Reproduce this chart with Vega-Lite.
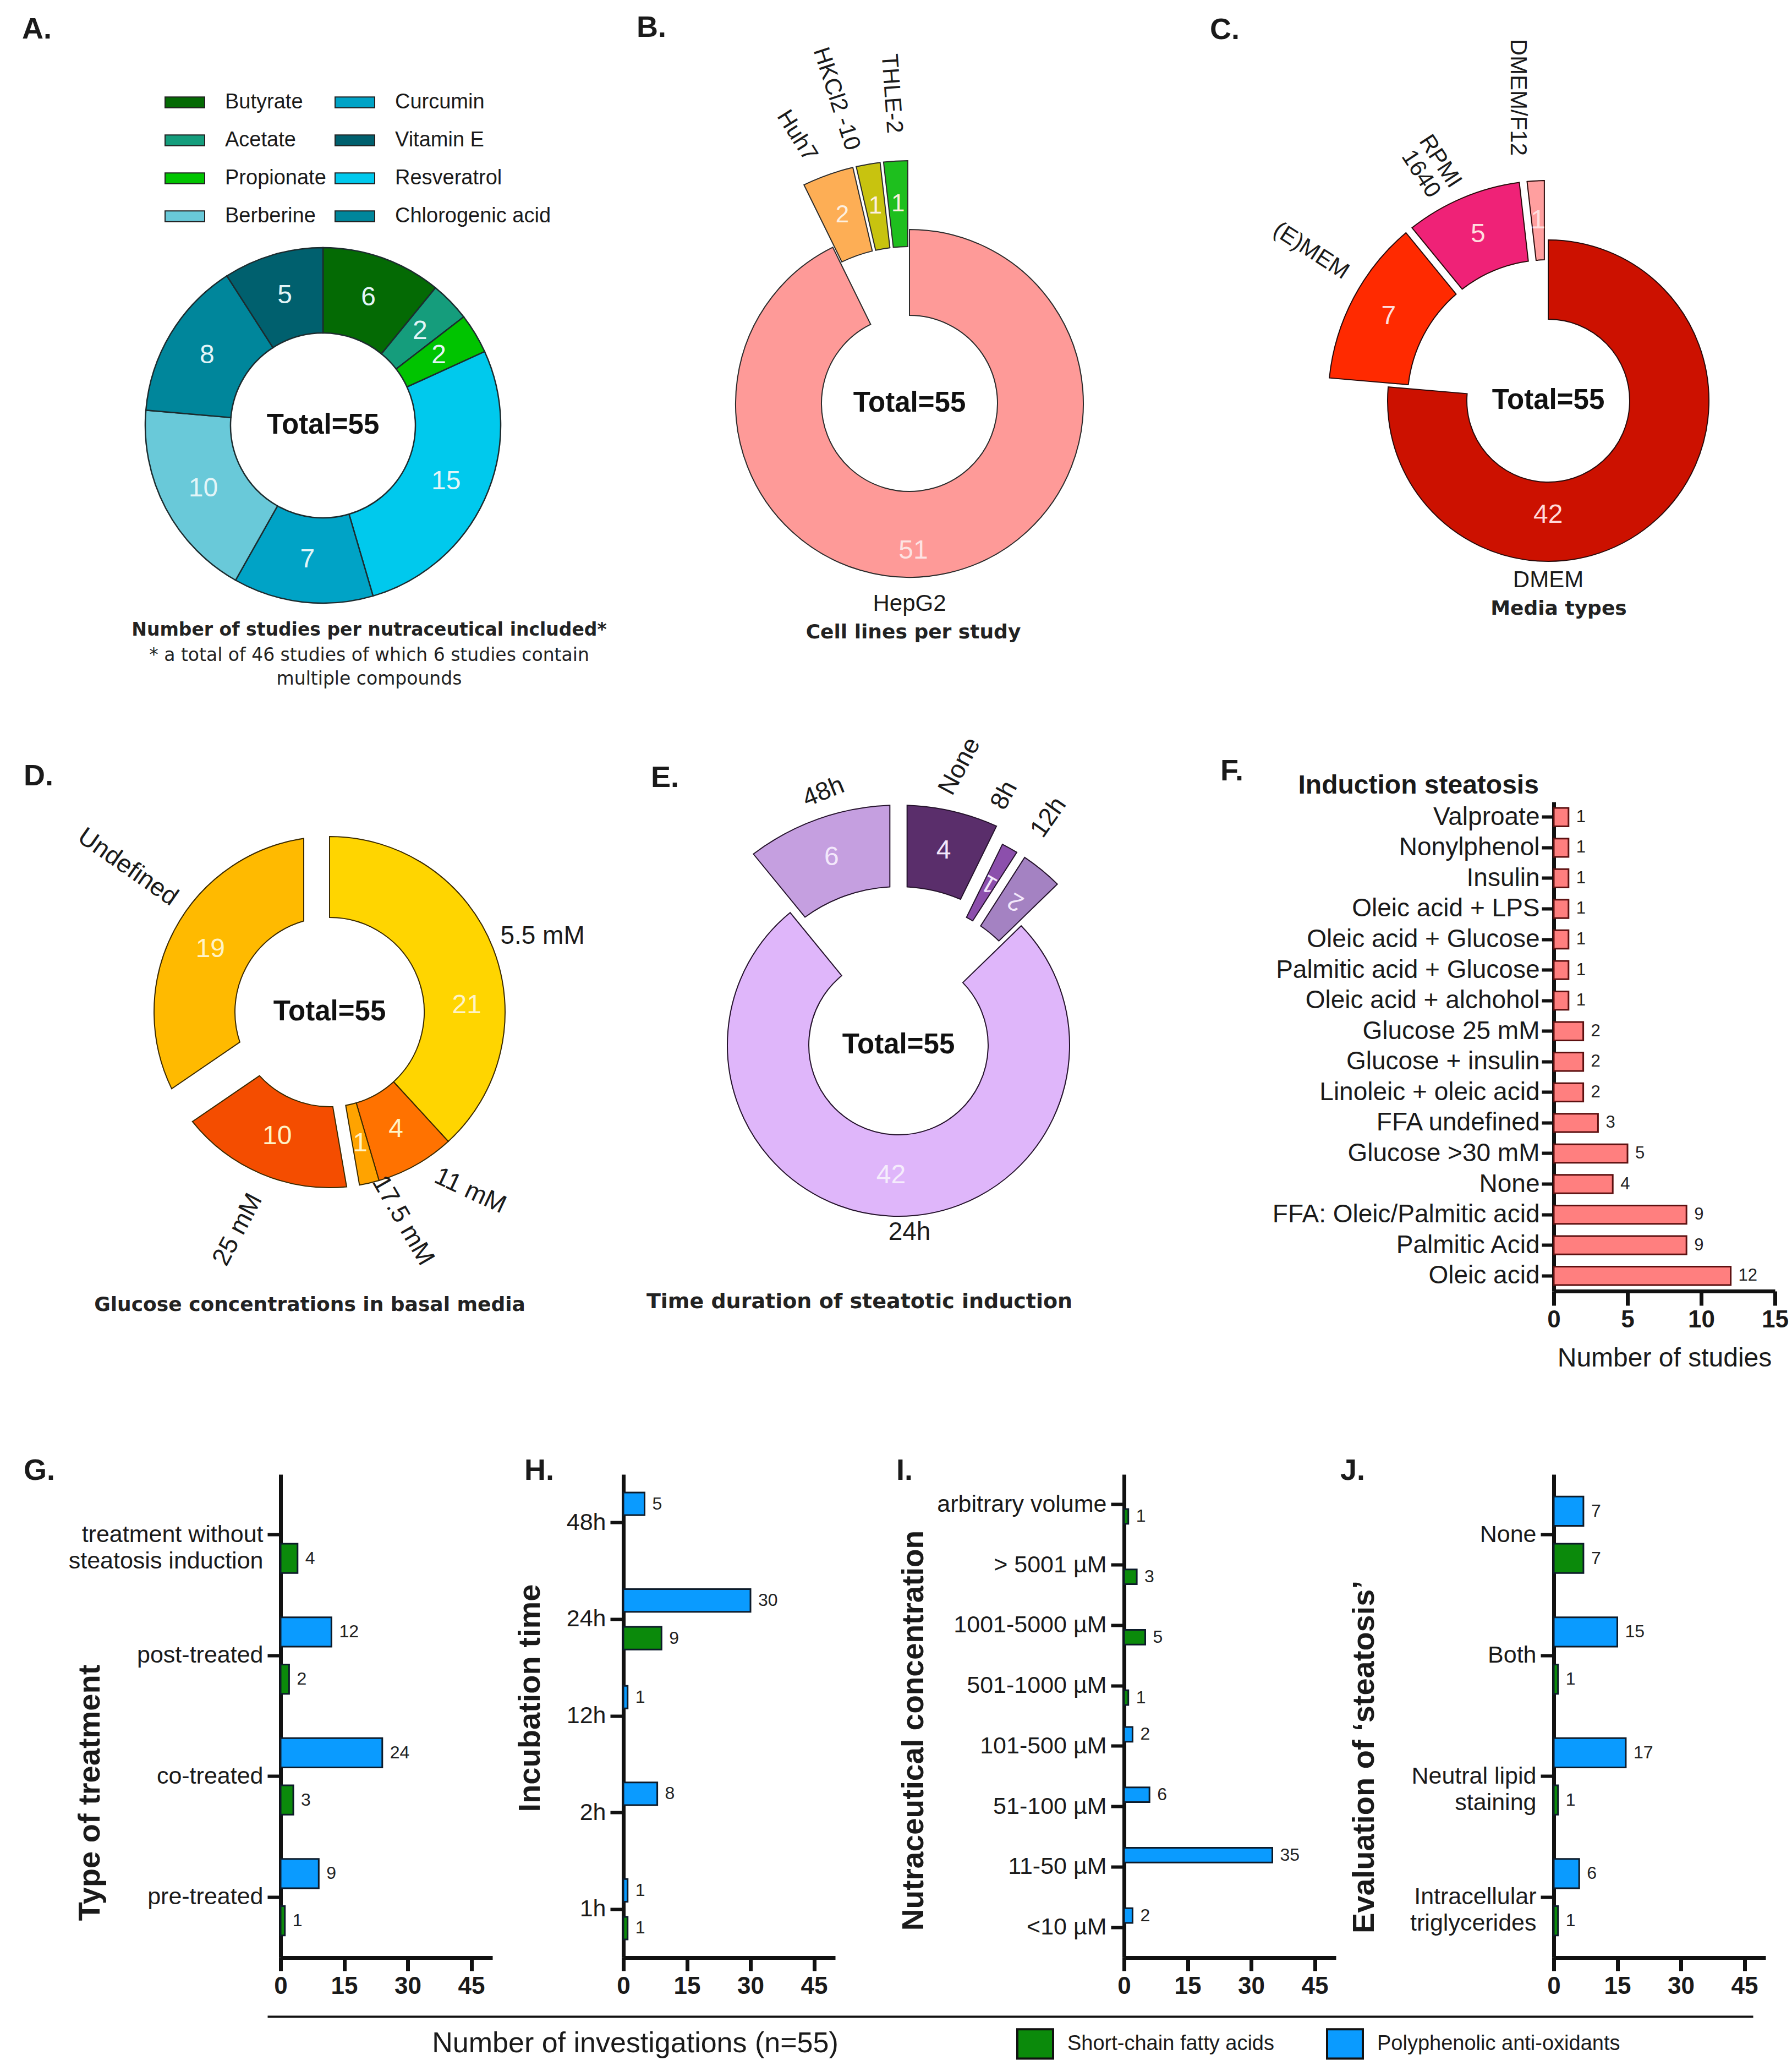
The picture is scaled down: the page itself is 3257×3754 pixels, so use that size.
{
"$schema": "https://vega.github.io/schema/vega-lite/v6.json",
"background": "white",
"padding": {"left": 40, "top": 24, "right": 0, "bottom": 0},
"config": {
  "font": "Liberation Sans",
  "view": {"stroke": null},
  "title": {"fontSize": 54, "fontWeight": "bold", "anchor": "start", "frame": "group", "color": "#1a1a1a"},
  "axis": {"grid": false, "domainColor": "#111111", "tickColor": "#111111", "labelColor": "#1a1a1a", "titleColor": "#1a1a1a", "labelFlush": false, "labelOverlap": false},
  "text": {"color": "#1a1a1a", "fontSize": 42},
  "legend": {"labelColor": "#1a1a1a"}
},
"spacing": 0,
"resolve": {"scale": {"color": "independent", "yOffset": "independent"}, "legend": {"color": "independent"}},
"vconcat": [
 {"columns": 8,
  "align": {"row": "each", "column": "each"},
  "bounds": "flush",
  "spacing": {"row": 0, "column": 0},
  "resolve": {"scale": {"color": "independent", "yOffset": "independent"}, "legend": {"color": "independent"}},
  "concat": [
   {"width": 154, "height": 1340,
    "title": {"text": "A.", "dx": -470, "offset": 22},
    "data": {"values": [
      {"compound": "Butyrate", "n": 6, "ord": 1},
      {"compound": "Acetate", "n": 2, "ord": 2},
      {"compound": "Propionate", "n": 2, "ord": 3},
      {"compound": "Resveratrol", "n": 15, "ord": 4},
      {"compound": "Curcumin", "n": 7, "ord": 5},
      {"compound": "Berberine", "n": 10, "ord": 6},
      {"compound": "Chlorogenic acid", "n": 8, "ord": 7},
      {"compound": "Vitamin E", "n": 5, "ord": 8}]},
    "layer": [
     {"mark": {"type": "arc", "innerRadius": 168, "outerRadius": 323, "stroke": "#1c2b2e", "strokeWidth": 2.5},
      "encoding": {
       "theta": {"field": "n", "type": "quantitative", "stack": true},
       "order": {"field": "ord", "type": "quantitative"},
       "color": {"field": "compound", "type": "nominal",
         "scale": {"domain": ["Butyrate", "Acetate", "Propionate", "Berberine", "Curcumin", "Vitamin E", "Resveratrol", "Chlorogenic acid"],
                   "range": ["#046a04", "#159d7c", "#00c400", "#69c9d9", "#00a3c6", "#00606e", "#00c9ed", "#00869b"]},
         "legend": {"title": null, "orient": "none", "legendX": -211, "legendY": 46, "columns": 2, "direction": "vertical",
           "symbolType": "M-1,-0.27H1V0.27H-1Z", "symbolSize": 5184, "symbolStrokeColor": "#222222", "symbolStrokeWidth": 2,
           "labelFontSize": 38, "labelOffset": 36, "rowPadding": 13, "columnPadding": 12, "labelLimit": 600}}}},
     {"mark": {"type": "text", "radius": 246, "fontSize": 48, "color": "#e3f5f8"},
      "encoding": {
       "theta": {"field": "n", "type": "quantitative", "stack": true},
       "order": {"field": "ord", "type": "quantitative"},
       "text": {"field": "n", "type": "quantitative"}}},
     {"data": {"values": [{"t": "Total=55"}]},
      "mark": {"type": "text", "fontSize": 51, "fontWeight": "bold", "color": "#111111"},
      "encoding": {"text": {"field": "t", "type": "nominal"}}},
     {"data": {"values": [{"t": "Number of studies per nutraceutical included*"}]},
      "mark": {"type": "text", "font": "DejaVu Sans", "fontSize": 33, "fontWeight": "bold", "color": "#222222", "dx": 84, "dy": 372},
      "encoding": {"text": {"field": "t", "type": "nominal"}}},
     {"data": {"values": [{"t": "* a total of 46 studies of which 6 studies contain|multiple compounds"}]},
      "mark": {"type": "text", "font": "DejaVu Sans", "fontSize": 33, "color": "#222222", "dx": 84, "dy": 402, "baseline": "top", "lineBreak": "|", "lineHeight": 43},
      "encoding": {"text": {"field": "t", "type": "nominal"}}}
    ]},
   {"width": 1, "height": 1354, "data": {"values": [{}]}, "mark": {"type": "point", "opacity": 0}, "encoding": {}},
   {"width": 1, "height": 1, "data": {"values": [{}]}, "mark": {"type": "point", "opacity": 0}, "encoding": {}},
   {"width": 270, "height": 1260,
    "title": {"text": "B.", "dx": -361, "offset": 1},
    "data": {"values": [
      {"line": "HepG2", "n": 51, "ord": 1},
      {"line": "Huh7", "n": 2, "ord": 2},
      {"line": "HKCl2 -10", "n": 1, "ord": 3},
      {"line": "THLE-2", "n": 1, "ord": 4}]},
    "layer": [
     {"mark": {"type": "arc", "innerRadius": 160, "outerRadius": 316, "stroke": "#2b2b2b", "strokeWidth": 2},
      "encoding": {
       "theta": {"field": "n", "type": "quantitative", "stack": true},
       "order": {"field": "ord", "type": "quantitative"},
       "color": {"field": "line", "type": "nominal", "scale": {"domain": ["HepG2", "Huh7", "HKCl2 -10", "THLE-2"], "range": ["#fe9a98", "#fdae55", "#c8c30f", "#1ebf1e"]}, "legend": null},
       "opacity": {"condition": {"test": "datum.line == 'HepG2'", "value": 1}, "value": 0}}},
     {"mark": {"type": "arc", "innerRadius": 285, "outerRadius": 441, "padAngle": 0.012, "stroke": "#2b2b2b", "strokeWidth": 2},
      "encoding": {
       "theta": {"field": "n", "type": "quantitative", "stack": true},
       "order": {"field": "ord", "type": "quantitative"},
       "color": {"field": "line", "type": "nominal", "scale": {"domain": ["HepG2", "Huh7", "HKCl2 -10", "THLE-2"], "range": ["#fe9a98", "#fdae55", "#c8c30f", "#1ebf1e"]}, "legend": null},
       "opacity": {"condition": {"test": "datum.line != 'HepG2'", "value": 1}, "value": 0}}},
     {"mark": {"type": "text", "radius": 238, "dx": -47, "dy": 36, "fontSize": 48, "color": "#fde3e3"},
      "encoding": {
       "theta": {"field": "n", "type": "quantitative", "stack": true},
       "order": {"field": "ord", "type": "quantitative"},
       "text": {"field": "n", "type": "quantitative"},
       "opacity": {"condition": {"test": "datum.line == 'HepG2'", "value": 1}, "value": 0}}},
     {"mark": {"type": "text", "radius": 363, "fontSize": 44, "color": "#fdf0e0"},
      "encoding": {
       "theta": {"field": "n", "type": "quantitative", "stack": true},
       "order": {"field": "ord", "type": "quantitative"},
       "text": {"field": "n", "type": "quantitative"},
       "opacity": {"condition": {"test": "datum.line != 'HepG2'", "value": 1}, "value": 0}}},
     {"mark": {"type": "text", "radius": 527, "angle": 58, "dx": -6, "dy": 28, "fontSize": 42},
      "encoding": {
       "theta": {"field": "n", "type": "quantitative", "stack": true},
       "order": {"field": "ord", "type": "quantitative"},
       "text": {"field": "line", "type": "nominal"},
       "opacity": {"condition": {"test": "datum.line == 'Huh7'", "value": 1}, "value": 0}}},
     {"mark": {"type": "text", "radius": 570, "angle": 72, "dx": -3, "dy": 36, "fontSize": 42},
      "encoding": {
       "theta": {"field": "n", "type": "quantitative", "stack": true},
       "order": {"field": "ord", "type": "quantitative"},
       "text": {"field": "line", "type": "nominal"},
       "opacity": {"condition": {"test": "datum.line == 'HKCl2 -10'", "value": 1}, "value": 0}}},
     {"mark": {"type": "text", "radius": 564, "angle": 86, "fontSize": 42},
      "encoding": {
       "theta": {"field": "n", "type": "quantitative", "stack": true},
       "order": {"field": "ord", "type": "quantitative"},
       "text": {"field": "line", "type": "nominal"},
       "opacity": {"condition": {"test": "datum.line == 'THLE-2'", "value": 1}, "value": 0}}},
     {"data": {"values": [{"t": "Total=55"}]},
      "mark": {"type": "text", "fontSize": 51, "fontWeight": "bold", "color": "#111111"},
      "encoding": {"text": {"field": "t", "type": "nominal"}}},
     {"data": {"values": [{"t": "HepG2"}]},
      "mark": {"type": "text", "fontSize": 42, "dy": 364},
      "encoding": {"text": {"field": "t", "type": "nominal"}}},
     {"data": {"values": [{"t": "Cell lines per study"}]},
      "mark": {"type": "text", "font": "DejaVu Sans", "fontSize": 36, "fontWeight": "bold", "color": "#222222", "dx": 7, "dy": 416},
      "encoding": {"text": {"field": "t", "type": "nominal"}}}
    ]},
   {"width": 1, "height": 1, "data": {"values": [{}]}, "mark": {"type": "point", "opacity": 0}, "encoding": {}},
   {"width": 1, "height": 1, "data": {"values": [{}]}, "mark": {"type": "point", "opacity": 0}, "encoding": {}},
   {"width": 20, "height": 1250,
    "title": {"text": "C.", "dx": -605, "offset": -11},
    "data": {"values": [
      {"medium": "DMEM", "n": 42, "ord": 1},
      {"medium": "(E)MEM", "n": 7, "ord": 2},
      {"medium": "RPMI 1640", "n": 5, "ord": 3},
      {"medium": "DMEM/F12", "n": 1, "ord": 4}]},
    "layer": [
     {"mark": {"type": "arc", "innerRadius": 148, "outerRadius": 292, "stroke": "#2a0a0a", "strokeWidth": 2},
      "encoding": {
       "theta": {"field": "n", "type": "quantitative", "stack": true},
       "order": {"field": "ord", "type": "quantitative"},
       "color": {"field": "medium", "type": "nominal", "scale": {"domain": ["DMEM", "(E)MEM", "RPMI 1640", "DMEM/F12"], "range": ["#cc1100", "#ff2a00", "#ef2277", "#ff9f9f"]}, "legend": null},
       "opacity": {"condition": {"test": "datum.medium == 'DMEM'", "value": 1}, "value": 0}}},
     {"mark": {"type": "arc", "innerRadius": 256, "outerRadius": 400, "padAngle": 0.03, "stroke": "#2a0a0a", "strokeWidth": 2},
      "encoding": {
       "theta": {"field": "n", "type": "quantitative", "stack": true},
       "order": {"field": "ord", "type": "quantitative"},
       "color": {"field": "medium", "type": "nominal", "scale": {"domain": ["DMEM", "(E)MEM", "RPMI 1640", "DMEM/F12"], "range": ["#cc1100", "#ff2a00", "#ef2277", "#ff9f9f"]}, "legend": null},
       "opacity": {"condition": {"test": "datum.medium != 'DMEM'", "value": 1}, "value": 0}}},
     {"mark": {"type": "text", "radius": 220, "dx": -149, "dy": 46, "fontSize": 48, "color": "#ffd9d9"},
      "encoding": {
       "theta": {"field": "n", "type": "quantitative", "stack": true},
       "order": {"field": "ord", "type": "quantitative"},
       "text": {"field": "n", "type": "quantitative"},
       "opacity": {"condition": {"test": "datum.medium == 'DMEM'", "value": 1}, "value": 0}}},
     {"mark": {"type": "text", "radius": 328, "fontSize": 48, "color": "#ffdede"},
      "encoding": {
       "theta": {"field": "n", "type": "quantitative", "stack": true},
       "order": {"field": "ord", "type": "quantitative"},
       "text": {"field": "n", "type": "quantitative"},
       "opacity": {"condition": {"test": "datum.medium != 'DMEM'", "value": 1}, "value": 0}}},
     {"mark": {"type": "text", "radius": 510, "angle": 33, "dx": -2, "dy": -40, "fontSize": 42},
      "encoding": {
       "theta": {"field": "n", "type": "quantitative", "stack": true},
       "order": {"field": "ord", "type": "quantitative"},
       "text": {"field": "medium", "type": "nominal"},
       "opacity": {"condition": {"test": "datum.medium == '(E)MEM'", "value": 1}, "value": 0}}},
     {"mark": {"type": "text", "radius": 476, "angle": 57, "dx": -3, "dy": 11, "fontSize": 42, "lineBreak": " ", "lineHeight": 42},
      "encoding": {
       "theta": {"field": "n", "type": "quantitative", "stack": true},
       "order": {"field": "ord", "type": "quantitative"},
       "text": {"field": "medium", "type": "nominal"},
       "opacity": {"condition": {"test": "datum.medium == 'RPMI 1640'", "value": 1}, "value": 0}}},
     {"mark": {"type": "text", "radius": 552, "angle": 90, "dy": 23, "fontSize": 42},
      "encoding": {
       "theta": {"field": "n", "type": "quantitative", "stack": true},
       "order": {"field": "ord", "type": "quantitative"},
       "text": {"field": "medium", "type": "nominal"},
       "opacity": {"condition": {"test": "datum.medium == 'DMEM/F12'", "value": 1}, "value": 0}}},
     {"data": {"values": [{"t": "Total=55"}]},
      "mark": {"type": "text", "fontSize": 51, "fontWeight": "bold", "color": "#111111"},
      "encoding": {"text": {"field": "t", "type": "nominal"}}},
     {"data": {"values": [{"t": "DMEM"}]},
      "mark": {"type": "text", "fontSize": 42, "dy": 326},
      "encoding": {"text": {"field": "t", "type": "nominal"}}},
     {"data": {"values": [{"t": "Media types"}]},
      "mark": {"type": "text", "font": "DejaVu Sans", "fontSize": 36, "fontWeight": "bold", "color": "#222222", "dx": 19, "dy": 378},
      "encoding": {"text": {"field": "t", "type": "nominal"}}}
    ]},
   {"width": 1, "height": 1, "data": {"values": [{}]}, "mark": {"type": "point", "opacity": 0}, "encoding": {}},

   {"width": 178, "height": 764,
    "title": {"text": "D.", "dx": -467, "offset": 19},
    "data": {"values": [
      {"glucose": "5.5 mM", "n": 21, "ord": 1},
      {"glucose": "11 mM", "n": 4, "ord": 2},
      {"glucose": "17.5 mM", "n": 1, "ord": 3},
      {"glucose": "25 mM", "n": 10, "ord": 4},
      {"glucose": "Undefined", "n": 19, "ord": 5}]},
    "layer": [
     {"mark": {"type": "arc", "innerRadius": 172, "outerRadius": 319, "stroke": "#3b2a00", "strokeWidth": 2},
      "encoding": {
       "theta": {"field": "n", "type": "quantitative", "stack": true},
       "order": {"field": "ord", "type": "quantitative"},
       "color": {"field": "glucose", "type": "nominal", "scale": {"domain": ["5.5 mM", "11 mM", "17.5 mM", "25 mM", "Undefined"], "range": ["#ffd500", "#ff7200", "#ffa300", "#f44d00", "#ffba00"]}, "legend": null},
       "opacity": {"condition": {"test": "datum.glucose == '5.5 mM' || datum.glucose == '11 mM' || datum.glucose == '17.5 mM'", "value": 1}, "value": 0}}},
     {"mark": {"type": "arc", "innerRadius": 172, "outerRadius": 319, "padAngle": 0.13, "stroke": "#3b2a00", "strokeWidth": 2},
      "encoding": {
       "theta": {"field": "n", "type": "quantitative", "stack": true},
       "order": {"field": "ord", "type": "quantitative"},
       "color": {"field": "glucose", "type": "nominal", "scale": {"domain": ["5.5 mM", "11 mM", "17.5 mM", "25 mM", "Undefined"], "range": ["#ffd500", "#ff7200", "#ffa300", "#f44d00", "#ffba00"]}, "legend": null},
       "opacity": {"condition": {"test": "datum.glucose == '25 mM'", "value": 1}, "value": 0}}},
     {"mark": {"type": "arc", "innerRadius": 172, "outerRadius": 319, "padAngle": 0.26, "stroke": "#3b2a00", "strokeWidth": 2},
      "encoding": {
       "theta": {"field": "n", "type": "quantitative", "stack": true},
       "order": {"field": "ord", "type": "quantitative"},
       "color": {"field": "glucose", "type": "nominal", "scale": {"domain": ["5.5 mM", "11 mM", "17.5 mM", "25 mM", "Undefined"], "range": ["#ffd500", "#ff7200", "#ffa300", "#f44d00", "#ffba00"]}, "legend": null},
       "opacity": {"condition": {"test": "datum.glucose == 'Undefined'", "value": 1}, "value": 0}}},
     {"mark": {"type": "text", "radius": 245, "dx": 21, "dy": 77, "fontSize": 48, "color": "#fff3c6"},
      "encoding": {
       "theta": {"field": "n", "type": "quantitative", "stack": true},
       "order": {"field": "ord", "type": "quantitative"},
       "text": {"field": "n", "type": "quantitative"},
       "opacity": {"condition": {"test": "datum.glucose == '5.5 mM'", "value": 1}, "value": 0}}},
     {"mark": {"type": "text", "radius": 245, "fontSize": 48, "color": "#fff3c6"},
      "encoding": {
       "theta": {"field": "n", "type": "quantitative", "stack": true},
       "order": {"field": "ord", "type": "quantitative"},
       "text": {"field": "n", "type": "quantitative"},
       "opacity": {"condition": {"test": "datum.glucose != '5.5 mM'", "value": 1}, "value": 0}}},
     {"mark": {"type": "text", "radius": 451, "angle": 35, "dx": -4, "dy": -62, "fontSize": 46},
      "encoding": {
       "theta": {"field": "n", "type": "quantitative", "stack": true},
       "order": {"field": "ord", "type": "quantitative"},
       "text": {"field": "glucose", "type": "nominal"},
       "opacity": {"condition": {"test": "datum.glucose == 'Undefined'", "value": 1}, "value": 0}}},
     {"mark": {"type": "text", "radius": 410, "dx": 5, "dy": 11, "fontSize": 46},
      "encoding": {
       "theta": {"field": "n", "type": "quantitative", "stack": true},
       "order": {"field": "ord", "type": "quantitative"},
       "text": {"field": "glucose", "type": "nominal"},
       "opacity": {"condition": {"test": "datum.glucose == '5.5 mM'", "value": 1}, "value": 0}}},
     {"mark": {"type": "text", "radius": 413, "angle": 25, "dx": 33, "dy": -54, "fontSize": 46},
      "encoding": {
       "theta": {"field": "n", "type": "quantitative", "stack": true},
       "order": {"field": "ord", "type": "quantitative"},
       "text": {"field": "glucose", "type": "nominal"},
       "opacity": {"condition": {"test": "datum.glucose == '11 mM'", "value": 1}, "value": 0}}},
     {"mark": {"type": "text", "radius": 398, "angle": 60, "dx": 14, "dy": -42, "fontSize": 46},
      "encoding": {
       "theta": {"field": "n", "type": "quantitative", "stack": true},
       "order": {"field": "ord", "type": "quantitative"},
       "text": {"field": "glucose", "type": "nominal"},
       "opacity": {"condition": {"test": "datum.glucose == '17.5 mM'", "value": 1}, "value": 0}}},
     {"mark": {"type": "text", "radius": 429, "angle": -62, "fontSize": 46},
      "encoding": {
       "theta": {"field": "n", "type": "quantitative", "stack": true},
       "order": {"field": "ord", "type": "quantitative"},
       "text": {"field": "glucose", "type": "nominal"},
       "opacity": {"condition": {"test": "datum.glucose == '25 mM'", "value": 1}, "value": 0}}},
     {"data": {"values": [{"t": "Total=55"}]},
      "mark": {"type": "text", "fontSize": 51, "fontWeight": "bold", "color": "#111111"},
      "encoding": {"text": {"field": "t", "type": "nominal"}}},
     {"data": {"values": [{"t": "Glucose concentrations in basal media"}]},
      "mark": {"type": "text", "font": "DejaVu Sans", "fontSize": 36, "fontWeight": "bold", "color": "#222222", "dx": -36, "dy": 532},
      "encoding": {"text": {"field": "t", "type": "nominal"}}}
    ]},
   {"width": 1, "height": 1222, "data": {"values": [{}]}, "mark": {"type": "point", "opacity": 0}, "encoding": {}},
   {"width": 1, "height": 1, "data": {"values": [{}]}, "mark": {"type": "point", "opacity": 0}, "encoding": {}},
   {"width": 230, "height": 884,
    "title": {"text": "E.", "dx": -335, "offset": -113},
    "data": {"values": [
      {"time": "None", "n": 4, "ord": 1},
      {"time": "8h", "n": 1, "ord": 2},
      {"time": "12h", "n": 2, "ord": 3},
      {"time": "24h", "n": 42, "ord": 4},
      {"time": "48h", "n": 6, "ord": 5}]},
    "layer": [
     {"mark": {"type": "arc", "innerRadius": 163, "outerRadius": 311, "stroke": "#24122b", "strokeWidth": 2},
      "encoding": {
       "theta": {"field": "n", "type": "quantitative", "stack": true},
       "order": {"field": "ord", "type": "quantitative"},
       "color": {"field": "time", "type": "nominal", "scale": {"domain": ["None", "8h", "12h", "24h", "48h"], "range": ["#5a2e6b", "#8c4fac", "#a482c2", "#dfb6fa", "#c59fe0"]}, "legend": null},
       "opacity": {"condition": {"test": "datum.time == '24h'", "value": 1}, "value": 0}}},
     {"mark": {"type": "arc", "innerRadius": 288, "outerRadius": 436, "padAngle": 0.06, "stroke": "#24122b", "strokeWidth": 2},
      "encoding": {
       "theta": {"field": "n", "type": "quantitative", "stack": true},
       "order": {"field": "ord", "type": "quantitative"},
       "color": {"field": "time", "type": "nominal", "scale": {"domain": ["None", "8h", "12h", "24h", "48h"], "range": ["#5a2e6b", "#8c4fac", "#a482c2", "#dfb6fa", "#c59fe0"]}, "legend": null},
       "opacity": {"condition": {"test": "datum.time == 'None' || datum.time == '48h'", "value": 1}, "value": 0}}},
     {"mark": {"type": "arc", "innerRadius": 263, "outerRadius": 411, "padAngle": 0.035, "stroke": "#24122b", "strokeWidth": 2},
      "encoding": {
       "theta": {"field": "n", "type": "quantitative", "stack": true},
       "order": {"field": "ord", "type": "quantitative"},
       "color": {"field": "time", "type": "nominal", "scale": {"domain": ["None", "8h", "12h", "24h", "48h"], "range": ["#5a2e6b", "#8c4fac", "#a482c2", "#dfb6fa", "#c59fe0"]}, "legend": null},
       "opacity": {"condition": {"test": "datum.time == '8h' || datum.time == '12h'", "value": 1}, "value": 0}}},
     {"mark": {"type": "text", "radius": 237, "fontSize": 48, "color": "#f5ecfc"},
      "encoding": {
       "theta": {"field": "n", "type": "quantitative", "stack": true},
       "order": {"field": "ord", "type": "quantitative"},
       "text": {"field": "n", "type": "quantitative"},
       "opacity": {"condition": {"test": "datum.time == '24h'", "value": 1}, "value": 0}}},
     {"mark": {"type": "text", "radius": 362, "fontSize": 48, "color": "#f3e8fb"},
      "encoding": {
       "theta": {"field": "n", "type": "quantitative", "stack": true},
       "order": {"field": "ord", "type": "quantitative"},
       "text": {"field": "n", "type": "quantitative"},
       "opacity": {"condition": {"test": "datum.time == 'None' || datum.time == '48h'", "value": 1}, "value": 0}}},
     {"mark": {"type": "text", "radius": 337, "angle": -150, "fontSize": 44, "color": "#f3e8fb"},
      "encoding": {
       "theta": {"field": "n", "type": "quantitative", "stack": true},
       "order": {"field": "ord", "type": "quantitative"},
       "text": {"field": "n", "type": "quantitative"},
       "opacity": {"condition": {"test": "datum.time == '8h' || datum.time == '12h'", "value": 1}, "value": 0}}},
     {"mark": {"type": "text", "radius": 480, "angle": -22, "dx": 26, "dy": 2, "fontSize": 46},
      "encoding": {
       "theta": {"field": "n", "type": "quantitative", "stack": true},
       "order": {"field": "ord", "type": "quantitative"},
       "text": {"field": "time", "type": "nominal"},
       "opacity": {"condition": {"test": "datum.time == '48h'", "value": 1}, "value": 0}}},
     {"mark": {"type": "text", "radius": 520, "angle": -62, "dx": -3, "dy": -6, "fontSize": 46},
      "encoding": {
       "theta": {"field": "n", "type": "quantitative", "stack": true},
       "order": {"field": "ord", "type": "quantitative"},
       "text": {"field": "time", "type": "nominal"},
       "opacity": {"condition": {"test": "datum.time == 'None'", "value": 1}, "value": 0}}},
     {"mark": {"type": "text", "radius": 492, "angle": -62, "dx": -1, "dy": -56, "fontSize": 46},
      "encoding": {
       "theta": {"field": "n", "type": "quantitative", "stack": true},
       "order": {"field": "ord", "type": "quantitative"},
       "text": {"field": "time", "type": "nominal"},
       "opacity": {"condition": {"test": "datum.time == '8h'", "value": 1}, "value": 0}}},
     {"mark": {"type": "text", "radius": 496, "angle": -55, "dx": 1, "dy": -51, "fontSize": 46},
      "encoding": {
       "theta": {"field": "n", "type": "quantitative", "stack": true},
       "order": {"field": "ord", "type": "quantitative"},
       "text": {"field": "time", "type": "nominal"},
       "opacity": {"condition": {"test": "datum.time == '12h'", "value": 1}, "value": 0}}},
     {"data": {"values": [{"t": "Total=55"}]},
      "mark": {"type": "text", "fontSize": 51, "fontWeight": "bold", "color": "#111111"},
      "encoding": {"text": {"field": "t", "type": "nominal"}}},
     {"data": {"values": [{"t": "24h"}]},
      "mark": {"type": "text", "fontSize": 46, "dx": 20, "dy": 340},
      "encoding": {"text": {"field": "t", "type": "nominal"}}},
     {"data": {"values": [{"t": "Time duration of steatotic induction"}]},
      "mark": {"type": "text", "font": "DejaVu Sans", "fontSize": 38, "fontWeight": "bold", "color": "#222222", "dx": -71, "dy": 467},
      "encoding": {"text": {"field": "t", "type": "nominal"}}}
    ]},
   {"width": 1, "height": 1, "data": {"values": [{}]}, "mark": {"type": "point", "opacity": 0}, "encoding": {}},
   {"width": 1, "height": 1, "data": {"values": [{}]}, "mark": {"type": "point", "opacity": 0}, "encoding": {}},
   {"width": 1, "height": 1, "data": {"values": [{}]}, "mark": {"type": "point", "opacity": 0}, "encoding": {}},
   {"width": 402, "height": 889,
    "title": {"text": "F.", "dx": -606, "offset": -26},
    "data": {"values": [
      {"cond": "Valproate", "n": 1},
      {"cond": "Nonylphenol", "n": 1},
      {"cond": "Insulin", "n": 1},
      {"cond": "Oleic acid + LPS", "n": 1},
      {"cond": "Oleic acid + Glucose", "n": 1},
      {"cond": "Palmitic acid + Glucose", "n": 1},
      {"cond": "Oleic acid + alchohol", "n": 1},
      {"cond": "Glucose 25 mM", "n": 2},
      {"cond": "Glucose + insulin", "n": 2},
      {"cond": "Linoleic + oleic acid", "n": 2},
      {"cond": "FFA undefined", "n": 3},
      {"cond": "Glucose >30 mM", "n": 5},
      {"cond": "None", "n": 4},
      {"cond": "FFA: Oleic/Palmitic acid", "n": 9},
      {"cond": "Palmitic Acid", "n": 9},
      {"cond": "Oleic acid", "n": 12}]},
    "encoding": {
     "y": {"field": "cond", "type": "nominal", "sort": null,
      "scale": {"paddingInner": 0.4, "paddingOuter": 0.2},
      "axis": {"title": "Induction steatosis", "titleAngle": 0, "titleX": -465, "titleY": -16, "titleAlign": "left", "titleBaseline": "alphabetic",
               "titleFontSize": 48, "titleFontWeight": "bold", "labelFontSize": 46, "labelPadding": 4, "labelLimit": 900,
               "domainWidth": 7, "tickWidth": 6, "tickSize": 22}},
     "x": {"field": "n", "type": "quantitative", "scale": {"domain": [0, 15]},
      "axis": {"values": [0, 5, 10, 15], "title": "Number of studies", "titleFontSize": 48, "titleFontWeight": "normal", "titlePadding": 24,
               "labelFontSize": 44, "labelFontWeight": "bold", "labelPadding": 4, "domainWidth": 7, "tickWidth": 7, "tickSize": 26}}
    },
    "layer": [
     {"mark": {"type": "bar", "fill": "#ff7f7f", "stroke": "#5c1010", "strokeWidth": 3}},
     {"mark": {"type": "text", "align": "left", "baseline": "middle", "dx": 14, "fontSize": 31, "color": "#222222"},
      "encoding": {"text": {"field": "n", "type": "quantitative"}}}
    ]},

   {"width": 385, "height": 878,
    "title": {"text": "G.", "dx": -467, "offset": -21},
    "data": {"values": [
      {"cat": "treatment without steatosis induction", "grp": "Short-chain fatty acids", "n": 4},
      {"cat": "post-treated", "grp": "Polyphenolic anti-oxidants", "n": 12},
      {"cat": "post-treated", "grp": "Short-chain fatty acids", "n": 2},
      {"cat": "co-treated", "grp": "Polyphenolic anti-oxidants", "n": 24},
      {"cat": "co-treated", "grp": "Short-chain fatty acids", "n": 3},
      {"cat": "pre-treated", "grp": "Polyphenolic anti-oxidants", "n": 9},
      {"cat": "pre-treated", "grp": "Short-chain fatty acids", "n": 1}]},
    "encoding": {
     "y": {"field": "cat", "type": "nominal", "sort": null, "scale": {"paddingInner": 0, "paddingOuter": 0},
      "axis": {"title": "Type of treatment", "titleX": -347, "titleY": 578, "titleAngle": 270, "titleAlign": "center", "titleBaseline": "middle",
               "titleFontSize": 56, "titleFontWeight": "bold", "labelFontSize": 43, "labelPadding": 8, "labelLineHeight": 48, "labelLimit": 900,
               "domainWidth": 7, "tickWidth": 6, "tickSize": 24,
               "labelExpr": "datum.label == 'treatment without steatosis induction' ? ['treatment without', 'steatosis induction'] : datum.label"}},
     "x": {"field": "n", "type": "quantitative", "scale": {"domain": [0, 50]},
      "axis": {"values": [0, 15, 30, 45], "title": null, "labelFontSize": 44, "labelFontWeight": "bold", "labelPadding": 6, "domainWidth": 7, "tickWidth": 7, "tickSize": 24}},
     "yOffset": {"field": "grp", "type": "nominal", "scale": {"domain": ["Polyphenolic anti-oxidants", "Short-chain fatty acids"], "paddingInner": 0.38, "paddingOuter": 0.47}}
    },
    "layer": [
     {"mark": {"type": "bar", "stroke": "#0d1b2a", "strokeWidth": 3},
      "encoding": {"color": {"field": "grp", "type": "nominal", "scale": {"domain": ["Short-chain fatty acids", "Polyphenolic anti-oxidants"], "range": ["#0b8a0b", "#0a9bff"]}, "legend": null}}},
     {"mark": {"type": "text", "align": "left", "baseline": "middle", "dx": 14, "fontSize": 32, "color": "#222222"},
      "encoding": {"text": {"field": "n", "type": "quantitative"}}}
    ]},
   {"width": 238, "height": 984, "data": {"values": [{}]}, "mark": {"type": "point", "opacity": 0}, "encoding": {}},
   {"width": 385, "height": 878,
    "title": {"text": "H.", "dx": -180, "offset": -21},
    "data": {"values": [
      {"cat": "48h", "grp": "Polyphenolic anti-oxidants", "n": 5},
      {"cat": "24h", "grp": "Polyphenolic anti-oxidants", "n": 30},
      {"cat": "24h", "grp": "Short-chain fatty acids", "n": 9},
      {"cat": "12h", "grp": "Polyphenolic anti-oxidants", "n": 1},
      {"cat": "2h", "grp": "Polyphenolic anti-oxidants", "n": 8},
      {"cat": "1h", "grp": "Polyphenolic anti-oxidants", "n": 1},
      {"cat": "1h", "grp": "Short-chain fatty acids", "n": 1}]},
    "encoding": {
     "y": {"field": "cat", "type": "nominal", "sort": null, "scale": {"paddingInner": 0, "paddingOuter": 0},
      "axis": {"title": "Incubation time", "titleX": -170, "titleY": 406, "titleAngle": 270, "titleAlign": "center", "titleBaseline": "middle",
               "titleFontSize": 56, "titleFontWeight": "bold", "labelFontSize": 43, "labelPadding": 8, "labelLimit": 900,
               "domainWidth": 7, "tickWidth": 6, "tickSize": 24}},
     "x": {"field": "n", "type": "quantitative", "scale": {"domain": [0, 50]},
      "axis": {"values": [0, 15, 30, 45], "title": null, "labelFontSize": 44, "labelFontWeight": "bold", "labelPadding": 6, "domainWidth": 7, "tickWidth": 7, "tickSize": 24}},
     "yOffset": {"field": "grp", "type": "nominal", "scale": {"domain": ["Polyphenolic anti-oxidants", "Short-chain fatty acids"], "paddingInner": 0.4, "paddingOuter": 0.48}}
    },
    "layer": [
     {"mark": {"type": "bar", "stroke": "#0d1b2a", "strokeWidth": 3},
      "encoding": {"color": {"field": "grp", "type": "nominal", "scale": {"domain": ["Short-chain fatty acids", "Polyphenolic anti-oxidants"], "range": ["#0b8a0b", "#0a9bff"]}, "legend": null}}},
     {"mark": {"type": "text", "align": "left", "baseline": "middle", "dx": 14, "fontSize": 32, "color": "#222222"},
      "encoding": {"text": {"field": "n", "type": "quantitative"}}}
    ]},
   {"width": 525, "height": 1, "data": {"values": [{}]}, "mark": {"type": "point", "opacity": 0}, "encoding": {}},
   {"width": 385, "height": 878,
    "title": {"text": "I.", "dx": -414, "offset": -21},
    "data": {"values": [
      {"cat": "arbitrary volume", "grp": "Short-chain fatty acids", "n": 1},
      {"cat": "> 5001 µM", "grp": "Short-chain fatty acids", "n": 3},
      {"cat": "1001-5000 µM", "grp": "Short-chain fatty acids", "n": 5},
      {"cat": "501-1000 µM", "grp": "Short-chain fatty acids", "n": 1},
      {"cat": "101-500 µM", "grp": "Polyphenolic anti-oxidants", "n": 2},
      {"cat": "51-100 µM", "grp": "Polyphenolic anti-oxidants", "n": 6},
      {"cat": "11-50 µM", "grp": "Polyphenolic anti-oxidants", "n": 35},
      {"cat": "<10 µM", "grp": "Polyphenolic anti-oxidants", "n": 2}]},
    "encoding": {
     "y": {"field": "cat", "type": "nominal", "sort": null, "scale": {"paddingInner": 0, "paddingOuter": 0},
      "axis": {"title": "Nutraceutical concentration", "titleX": -383, "titleY": 465, "titleAngle": 270, "titleAlign": "center", "titleBaseline": "middle",
               "titleFontSize": 55, "titleFontWeight": "bold", "labelFontSize": 43, "labelPadding": 8, "labelLimit": 900,
               "domainWidth": 7, "tickWidth": 6, "tickSize": 24}},
     "x": {"field": "n", "type": "quantitative", "scale": {"domain": [0, 50]},
      "axis": {"values": [0, 15, 30, 45], "title": null, "labelFontSize": 44, "labelFontWeight": "bold", "labelPadding": 6, "domainWidth": 7, "tickWidth": 7, "tickSize": 24}},
     "yOffset": {"field": "grp", "type": "nominal", "scale": {"domain": ["Polyphenolic anti-oxidants", "Short-chain fatty acids"], "paddingInner": 0.38, "paddingOuter": 0.46}}
    },
    "layer": [
     {"mark": {"type": "bar", "stroke": "#0d1b2a", "strokeWidth": 3},
      "encoding": {"color": {"field": "grp", "type": "nominal", "scale": {"domain": ["Short-chain fatty acids", "Polyphenolic anti-oxidants"], "range": ["#0b8a0b", "#0a9bff"]}, "legend": null}}},
     {"mark": {"type": "text", "align": "left", "baseline": "middle", "dx": 14, "fontSize": 32, "color": "#222222"},
      "encoding": {"text": {"field": "n", "type": "quantitative"}}}
    ]},
   {"width": 376, "height": 1, "data": {"values": [{}]}, "mark": {"type": "point", "opacity": 0}, "encoding": {}},
   {"width": 20, "height": 1, "data": {"values": [{}]}, "mark": {"type": "point", "opacity": 0}, "encoding": {}},
   {"width": 385, "height": 878,
    "title": {"text": "J.", "dx": -388, "offset": -21},
    "data": {"values": [
      {"cat": "None", "grp": "Polyphenolic anti-oxidants", "n": 7},
      {"cat": "None", "grp": "Short-chain fatty acids", "n": 7},
      {"cat": "Both", "grp": "Polyphenolic anti-oxidants", "n": 15},
      {"cat": "Both", "grp": "Short-chain fatty acids", "n": 1},
      {"cat": "Neutral lipid staining", "grp": "Polyphenolic anti-oxidants", "n": 17},
      {"cat": "Neutral lipid staining", "grp": "Short-chain fatty acids", "n": 1},
      {"cat": "Intracellular triglycerides", "grp": "Polyphenolic anti-oxidants", "n": 6},
      {"cat": "Intracellular triglycerides", "grp": "Short-chain fatty acids", "n": 1}]},
    "encoding": {
     "y": {"field": "cat", "type": "nominal", "sort": null, "scale": {"paddingInner": 0, "paddingOuter": 0},
      "axis": {"title": "Evaluation of ‘steatosis’", "titleX": -345, "titleY": 513, "titleAngle": 270, "titleAlign": "center", "titleBaseline": "middle",
               "titleFontSize": 56, "titleFontWeight": "bold", "labelFontSize": 43, "labelPadding": 8, "labelLineHeight": 48, "labelLimit": 900,
               "domainWidth": 7, "tickWidth": 6, "tickSize": 24,
               "labelExpr": "datum.label == 'Neutral lipid staining' ? ['Neutral lipid', 'staining'] : datum.label == 'Intracellular triglycerides' ? ['Intracellular', 'triglycerides'] : datum.label"}},
     "x": {"field": "n", "type": "quantitative", "scale": {"domain": [0, 50]},
      "axis": {"values": [0, 15, 30, 45], "title": null, "labelFontSize": 44, "labelFontWeight": "bold", "labelPadding": 6, "domainWidth": 7, "tickWidth": 7, "tickSize": 24}},
     "yOffset": {"field": "grp", "type": "nominal", "scale": {"domain": ["Polyphenolic anti-oxidants", "Short-chain fatty acids"], "paddingInner": 0.38, "paddingOuter": 0.47}}
    },
    "layer": [
     {"mark": {"type": "bar", "stroke": "#0d1b2a", "strokeWidth": 3},
      "encoding": {"color": {"field": "grp", "type": "nominal", "scale": {"domain": ["Short-chain fatty acids", "Polyphenolic anti-oxidants"], "range": ["#0b8a0b", "#0a9bff"]}, "legend": null}}},
     {"mark": {"type": "text", "align": "left", "baseline": "middle", "dx": 14, "fontSize": 32, "color": "#222222"},
      "encoding": {"text": {"field": "n", "type": "quantitative"}}}
    ]}
  ]},
 {"width": 2676, "height": 1,
  "data": {"values": [{"grp": "Short-chain fatty acids"}, {"grp": "Polyphenolic anti-oxidants"}]},
  "mark": {"type": "bar", "stroke": "#111111", "strokeWidth": 0},
  "encoding": {
   "x": {"datum": 0, "type": "quantitative", "scale": {"domain": [0, 1], "range": [-24, 2676]},
    "axis": {"orient": "bottom", "domainWidth": 4, "domainColor": "#111111", "ticks": false, "labels": false,
             "title": "Number of investigations (n=55)", "titleFontSize": 52, "titleFontWeight": "normal",
             "titleX": 644, "titleY": 48, "titleBaseline": "middle", "titleAlign": "center"}},
   "x2": {"datum": 0},
   "color": {"field": "grp", "type": "nominal",
    "scale": {"domain": ["Short-chain fatty acids", "Polyphenolic anti-oxidants"], "range": ["#0b8a0b", "#0a9bff"]},
    "legend": {"title": null, "orient": "none", "legendX": 1337, "legendY": 16, "direction": "horizontal",
               "symbolType": "M-1,-0.82H1V0.82H-1Z", "symbolSize": 4225, "symbolStrokeColor": "#111111", "symbolStrokeWidth": 4,
               "labelFontSize": 38, "labelOffset": 24, "columnPadding": 88, "labelLimit": 800}}
  }}
]
}
